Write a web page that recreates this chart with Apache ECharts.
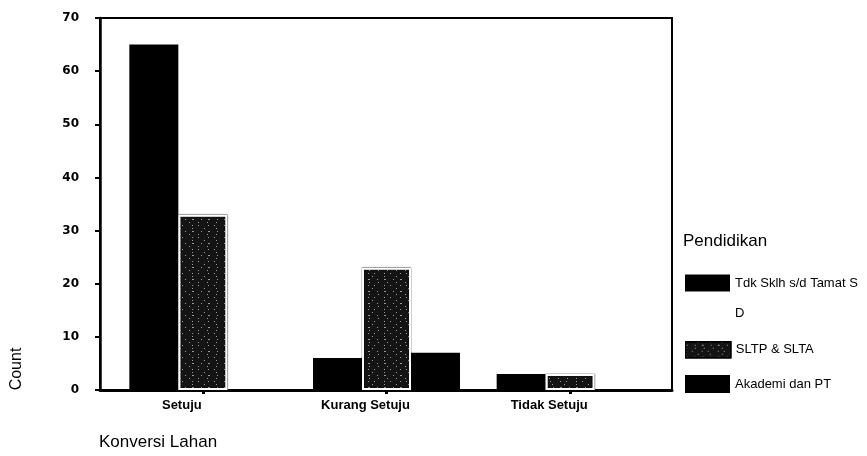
<!DOCTYPE html>
<html>
<head>
<meta charset="utf-8">
<script src="https://cdn.jsdelivr.net/npm/echarts@6/dist/echarts.min.js"></script>
<style>
html,body{margin:0;padding:0;background:#fff;}
#chart{width:867px;height:456px;}
</style>
</head>
<body>
<div id="chart"></div>
<script>
const categories = ['Setuju', 'Kurang Setuju', 'Tidak Setuju'];
const seriesNames = ['Tdk Sklh s/d Tamat SD', 'SLTP & SLTA', 'Akademi dan PT'];
const tdkSekolah = [65, 6, 3];
const sltpSlta = [33, 23, 3];
const akademiPT = [0, 7, 0];
const yTicks = { min: 0, max: 70, interval: 10 };

const chart = echarts.init(document.getElementById('chart'), null, { renderer: 'canvas' });
const base = 'Liberation Sans, Arial, sans-serif';

const speckle = {
  symbol: 'rect',
  symbolSize: 1,
  color: 'rgba(220,220,220,0.7)',
  dashArrayX: [[1, 5, 1, 9], [1, 11], [2, 7, 1, 6], [1, 8]],
  dashArrayY: [1, 2],
  rotation: 0
};

const option = {
  backgroundColor: '#fff',
  animation: false,
  grid: [
    { left: 100, right: 195, top: 18, bottom: 66, show: true, borderColor: '#000', borderWidth: 2, backgroundColor: 'transparent' },
    { left: 111, right: 205, top: 18, bottom: 66 }
  ],
  xAxis: [
    { gridIndex: 0, type: 'value', min: 0, max: 1, axisLine: { show: true, lineStyle: { color: '#000', width: 3 } },
      axisTick: { show: false }, axisLabel: { show: false }, splitLine: { show: false } },
    { gridIndex: 1, type: 'category', data: categories, boundaryGap: true,
      axisLine: { show: false },
      axisTick: { show: true, alignWithLabel: true, length: 4, lineStyle: { color: '#000', width: 3 } },
      axisLabel: { color: '#000', fontFamily: base, fontWeight: 'bold', fontSize: 13, margin: 9, padding: [0, 42, 0, 0] },
      splitLine: { show: false } }
  ],
  yAxis: [
    { gridIndex: 0, type: 'value', min: yTicks.min, max: yTicks.max, interval: yTicks.interval,
      axisLine: { show: true, lineStyle: { color: '#000', width: 2.5 } },
      axisTick: { show: true, inside: false, length: 5, lineStyle: { color: '#000', width: 2 } },
      axisLabel: { color: '#000', fontFamily: 'DejaVu Sans', fontWeight: 'bold', fontSize: 12, margin: 21, padding: [0, 0, 4, 0] },
      splitLine: { show: false } },
    { gridIndex: 1, type: 'value', min: yTicks.min, max: yTicks.max, interval: yTicks.interval, show: false }
  ],
  legend: [
    { data: [seriesNames[0]], left: 685, top: 238, orient: 'vertical', padding: 0, itemWidth: 45, itemHeight: 17,
      icon: 'rect', selectedMode: false,
      formatter: function (n) { return '\nTdk Sklh s/d Tamat S\nD'; },
      textStyle: { color: '#000', fontFamily: base, fontSize: 13, lineHeight: 30 } },
    { data: [seriesNames[1]], left: 685, top: 341, orient: 'vertical', padding: 0, itemWidth: 45, itemHeight: 16,
      icon: 'rect', selectedMode: false,
      itemStyle: { borderColor: '#000', borderWidth: 1.5 },
      textStyle: { color: '#000', fontFamily: base, fontSize: 13 } },
    { data: [seriesNames[2]], left: 685, top: 375, orient: 'vertical', padding: 0, itemWidth: 45, itemHeight: 18,
      icon: 'rect', selectedMode: false,
      textStyle: { color: '#000', fontFamily: base, fontSize: 13 } }
  ],
  graphic: [
    { type: 'text', x: 17, y: 369, rotation: Math.PI / 2,
      style: { text: 'Count', fill: '#000', font: '16px ' + base, align: 'center', verticalAlign: 'middle' } },
    { type: 'text', left: 99, top: 434,
      style: { text: 'Konversi Lahan', fill: '#000', font: '17px ' + base } },
    { type: 'text', left: 683, top: 233,
      style: { text: 'Pendidikan', fill: '#000', font: '17px ' + base } }
  ],
  series: [
    { name: seriesNames[0], type: 'bar', xAxisIndex: 1, yAxisIndex: 1, data: tdkSekolah,
      barWidth: 49, barGap: '0%', itemStyle: { color: '#000' } },
    { name: seriesNames[1], type: 'bar', xAxisIndex: 1, yAxisIndex: 1, data: sltpSlta,
      barWidth: 49, barGap: '0%',
      itemStyle: { color: '#141414', borderColor: '#fff', borderWidth: 2, decal: speckle,
        shadowColor: '#000', shadowBlur: 1 } },
    { name: seriesNames[2], type: 'bar', xAxisIndex: 1, yAxisIndex: 1, data: akademiPT,
      barWidth: 49, barGap: '0%', itemStyle: { color: '#000' } }
  ]
};
chart.setOption(option);
</script>
</body>
</html>
